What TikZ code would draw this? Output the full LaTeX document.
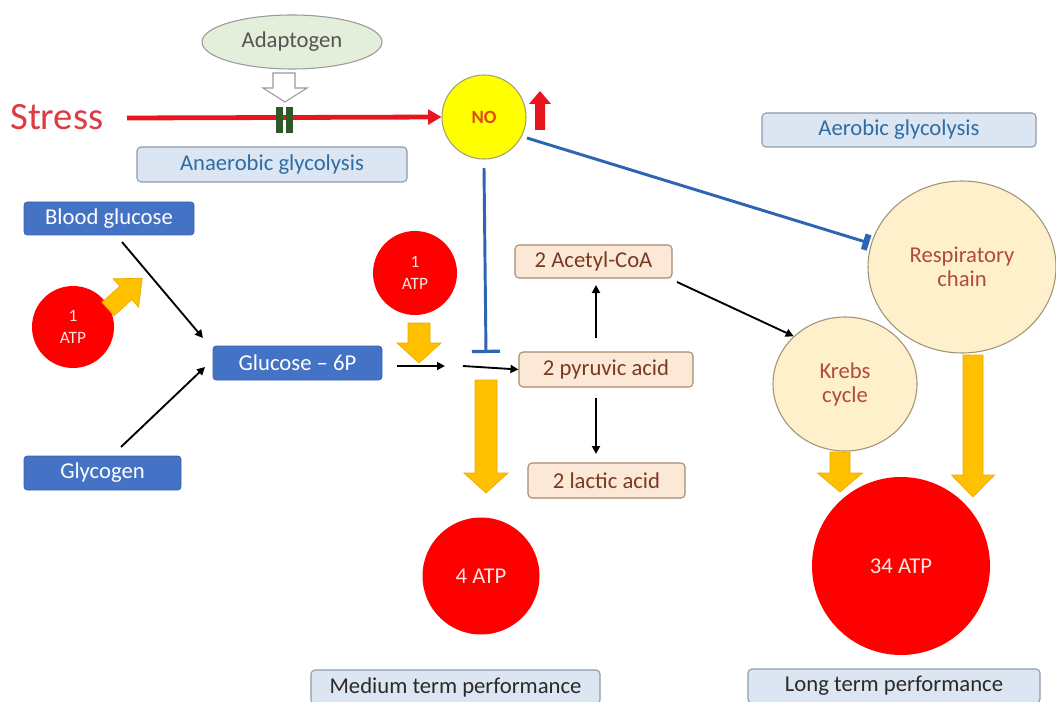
\documentclass[tikz,border=0pt]{standalone}
\usepackage{fontspec}
\setmainfont{Carlito}
\usetikzlibrary{shapes.geometric,arrows.meta}
\definecolor{boxblue}{HTML}{4472C4}
\definecolor{boxblueborder}{HTML}{3A63AD}
\definecolor{lightbluefill}{HTML}{DCE6F2}
\definecolor{lightblueborder}{HTML}{8C9AAB}
\definecolor{labelblue}{HTML}{2E6DA4}
\definecolor{peachfill}{HTML}{FCE8D6}
\definecolor{peachborder}{HTML}{A88A70}
\definecolor{peachtext}{HTML}{7A3A20}
\definecolor{creamfill}{HTML}{FFF0CC}
\definecolor{creamborder}{HTML}{A09478}
\definecolor{creamtext}{HTML}{B04A3C}
\definecolor{atpred}{HTML}{FF0000}
\definecolor{atptext}{HTML}{FFE4E4}
\definecolor{orangearrow}{HTML}{FFC000}
\definecolor{orangeborder}{HTML}{EBAA00}
\definecolor{stressred}{HTML}{DE3C45}
\definecolor{linered}{HTML}{E8141E}
\definecolor{noyellow}{HTML}{FFFF00}
\definecolor{noborder}{HTML}{A0A070}
\definecolor{notext}{HTML}{E04A10}
\definecolor{inhblue}{HTML}{2E64B4}
\definecolor{adaptfill}{HTML}{E3EFDA}
\definecolor{adaptborder}{HTML}{9A9A9A}
\definecolor{adapttext}{HTML}{555555}
\definecolor{blockgreen}{HTML}{2F5A28}
\definecolor{darktext}{HTML}{2A2A2A}
\tikzset{
  bluebox/.style={draw=boxblueborder, fill=boxblue, text=white, rounded corners=2.5pt,
    font=\fontsize{17}{19}\selectfont, inner sep=0pt, line width=0.6pt},
  labelbox/.style={draw=lightblueborder, fill=lightbluefill, text=labelblue, rounded corners=3pt,
    font=\fontsize{17}{19}\selectfont, inner sep=0pt, line width=0.8pt},
  bottombox/.style={labelbox, text=darktext},
  peachbox/.style={draw=peachborder, fill=peachfill, text=peachtext, rounded corners=3pt,
    font=\fontsize{17}{19}\selectfont, inner sep=0pt, line width=0.8pt},
  atpdisc/.style={circle, fill=atpred, text=atptext, inner sep=0pt, align=center},
  creamdisc/.style={ellipse, draw=creamborder, fill=creamfill, text=creamtext, inner sep=0pt,
    align=center, font=\fontsize{17}{18}\selectfont, line width=0.8pt},
  flow/.style={black, line width=1.4pt, -{Triangle[length=6pt,width=6pt]}},
  inhibit/.style={inhblue, line width=2.2pt},
  orangeblock/.style={fill=orangearrow, draw=orangeborder, line width=0.5pt},
}
% block arrow pointing down: cx, ytop, shaft width, y of head base, head width, ytip
\newcommand\blockdown[6]{%
  \filldraw[orangeblock] ({#1-#3/2},#2) -- ({#1+#3/2},#2) -- ({#1+#3/2},#4) -- ({#1+#5/2},#4)
    -- (#1,#6) -- ({#1-#5/2},#4) -- ({#1-#3/2},#4) -- cycle;}
\begin{document}
\begin{tikzpicture}[x=0.75pt,y=-0.75pt]
\useasboundingbox (0,0) rectangle (1056,702);
\fill[white] (0,0) rectangle (1056,702);

% ---- top: stress, adaptogen, NO
\node[ellipse, draw=adaptborder, fill=adaptfill, text=adapttext, minimum width=135pt, minimum height=40.5pt,
  inner sep=0pt, font=\fontsize{17}{19}\selectfont, line width=0.8pt] (adapt) at (292,42) {Adaptogen};
\filldraw[fill=white, draw=adaptborder, line width=0.8pt] (273,73) -- (295,73) -- (295,88) -- (307,88)
  -- (285,102) -- (263,88) -- (273,88) -- cycle;

\node[text=stressred, font=\fontsize{29}{30}\selectfont, anchor=west, inner sep=0pt] (stress) at (10,117) {Stress};
\node[circle, draw=noborder, fill=noyellow, minimum size=63pt, inner sep=0pt, line width=0.8pt,
  text=notext, font=\fontsize{14}{15}\selectfont\bfseries] (no) at (484,117) {NO};
\coordinate (stressend) at (127,118);
\draw[linered, line width=3.6pt, -{Triangle[length=10pt,width=11pt]}] (stressend) -- (no.west);
\fill[blockgreen] (276,107) rectangle (283,133);
\fill[blockgreen] (286,107) rectangle (293,133);
% red up arrow next to NO
\fill[linered] (535,130) -- (545,130) -- (545,104) -- (551,104) -- (540,91) -- (529,104) -- (535,104) -- cycle;

\node[labelbox, minimum width=202.5pt, minimum height=26.25pt] (anaer) at (272,164.5) {Anaerobic glycolysis};
\node[labelbox, minimum width=205.5pt, minimum height=25.5pt] (aer) at (899,130) {Aerobic glycolysis};

% ---- left: glucose sources
\node[bluebox, minimum width=127.5pt, minimum height=24.75pt] (bg) at (109,218.5) {Blood glucose};
\node[bluebox, minimum width=117.75pt, minimum height=25.5pt] (glyc) at (102.5,473) {Glycogen};
\node[bluebox, minimum width=126.75pt, minimum height=25.5pt] (g6p) at (297.5,363) {Glucose -- 6P};

\node[atpdisc, minimum size=61.5pt, font=\fontsize{13}{16}\selectfont] (atpa) at (73,327) {1\\ATP};
\node[atpdisc, minimum size=63pt, font=\fontsize{13}{16}\selectfont] (atpb) at (415,273) {1\\ATP};

% diagonal orange arrow from left ATP
\begin{scope}[shift={(108,309)}, rotate=42]
  \filldraw[orangeblock] (0,-9) -- (24,-9) -- (24,-19) -- (46,0) -- (24,19) -- (24,9) -- (0,9) -- cycle;
\end{scope}

\coordinate (bgstart) at (122,242);
\coordinate (glycstart) at (121,447);
\coordinate (g6pin1) at (203,338);
\coordinate (g6pin2) at (205,367);
\draw[flow] (bgstart) -- (g6pin1);
\draw[flow] (glycstart) -- (g6pin2);

% ---- middle: glycolysis steps
\node[peachbox, minimum width=117.75pt, minimum height=24.75pt] (acetyl) at (593.5,261.5) {2 Acetyl-CoA};
\node[peachbox, minimum width=130.5pt, minimum height=26.25pt] (pyr) at (606,369.5) {2 pyruvic acid};
\node[peachbox, minimum width=117.75pt, minimum height=26.25pt] (lact) at (606.5,480.5) {2 lactic acid};

\coordinate (a1s) at (397,366);
\coordinate (a1e) at (445,366);
\coordinate (a2s) at (463,366);
\draw[flow] (a1s) -- (a1e);
\draw[flow] (a2s) -- (pyr.west);

\coordinate (pyrup) at (596,338);
\coordinate (acetdn) at (596,285);
\draw[flow] (pyrup) -- (acetdn);
\coordinate (pyrdn) at (596,398);
\coordinate (lactup) at (596,454);
\draw[flow] (pyrdn) -- (lactup);

% small orange arrow below middle ATP
\blockdown{419}{323}{22}{343}{44}{363}

% inhibition from NO
\coordinate (nobar) at (486,353);
\draw[inhibit, -{Bar[width=21pt,line width=2.4pt]}] (no.south |- 0,168) -- (nobar);

% big orange arrow to 4 ATP
\blockdown{486}{380}{22}{473}{44}{493}
\node[atpdisc, minimum size=87.75pt, font=\fontsize{17}{18}\selectfont] (atp4) at (481,576) {4 ATP};

% ---- right: aerobic
\node[creamdisc, minimum width=141pt, minimum height=129pt] (resp) at (962,267) {Respiratory\\chain};
\node[creamdisc, minimum width=108pt, minimum height=100.5pt] (krebs) at (845,384) {Krebs\\cycle};

\coordinate (acetout) at (677,282);
\draw[flow] (acetout) -- (krebs.north west);

\coordinate (noout) at (527,138);
\coordinate (respin) at (869,243);
\draw[inhibit, -{Bar[width=12pt,line width=4.5pt]}] (noout) -- (respin);

\blockdown{840}{452}{20}{473}{45}{492}
\blockdown{973}{355}{20}{475}{43}{497}
\node[atpdisc, minimum size=133.5pt, font=\fontsize{17}{18}\selectfont] (atp34) at (901,566) {34 ATP};

% ---- bottom labels
\node[bottombox, minimum width=216.75pt, minimum height=25.5pt] (medium) at (455.5,687) {Medium term performance};
\node[bottombox, minimum width=219pt, minimum height=25.5pt] (long) at (894,686) {Long term performance};
\end{tikzpicture}
\end{document}
